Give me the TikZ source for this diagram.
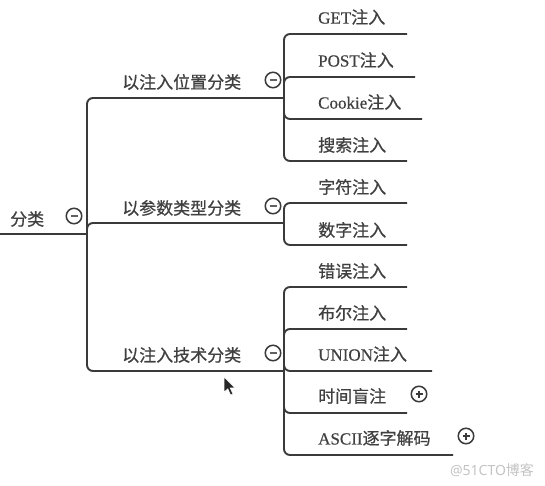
\documentclass[tikz,border=0pt]{standalone}
\usepackage{fontspec}
\setmainfont[FakeBold=0.5]{Liberation Serif}
\newfontfamily\cjk[FakeBold=0.7]{Noto Sans CJK SC}
\newfontfamily\wmfont{Noto Sans}
\newfontfamily\wmcjk{Noto Sans CJK SC}
\definecolor{ln}{HTML}{3A3A3A}
\definecolor{tx}{HTML}{404040}
\definecolor{wm}{HTML}{C4C4C4}
\tikzset{
  lbl/.style={anchor=west, inner sep=0pt, font=\fontsize{17}{20}\selectfont, text=tx},
  conn/.style={draw=ln, line width=1.9pt, rounded corners=6pt},
  togglebase/.style={circle, draw=ln, line width=1.5pt, fill=white, minimum size=15.5pt, inner sep=0pt},
  minusbox/.style={togglebase, path picture={
    \draw[ln!80, line width=1.1pt] ([xshift=-3.5pt]path picture bounding box.center) -- ([xshift=3.5pt]path picture bounding box.center);}},
  plusbox/.style={togglebase, path picture={
    \draw[ln, line width=1.5pt] ([xshift=-3.5pt]path picture bounding box.center) -- ([xshift=3.5pt]path picture bounding box.center);
    \draw[ln, line width=1.5pt] ([yshift=-3.5pt]path picture bounding box.center) -- ([yshift=3.5pt]path picture bounding box.center);}}
}
\begin{document}
\begin{tikzpicture}[x=1pt,y=-1pt]
\useasboundingbox[fill=white] (0,0) rectangle (545,486);

% junctions
\coordinate (r0) at (0,234);
\coordinate (j0) at (87,234);
\coordinate (j1) at (284,98);
\coordinate (j2) at (284,223);
\coordinate (j3) at (284,371);
% leaf line ends
\coordinate (e1) at (407,34);
\coordinate (e2) at (415,77);
\coordinate (e3) at (422,119);
\coordinate (e4) at (407,161);
\coordinate (e5) at (407,203);
\coordinate (e6) at (407,245);
\coordinate (e7) at (407,287);
\coordinate (e8) at (407,329);
\coordinate (e9) at (432,371);
\coordinate (e10) at (407,413);
\coordinate (e11) at (453,455);

% connectors
\draw[conn] (r0) -- (j0);
\draw[conn] (j0) |- (j1);
\draw[conn] (j0) |- (j2);
\draw[conn] (j0) |- (j3);
\foreach \e in {e1,e2,e3,e4} \draw[conn] (j1) |- (\e);
\foreach \e in {e5,e6} \draw[conn] (j2) |- (\e);
\foreach \e in {e7,e8,e9,e10,e11} \draw[conn] (j3) |- (\e);

% labels
\node[lbl] (root) at (10,219) {\cjk 分类};
\node[lbl] (b1) at (122,82) {\cjk 以注入位置分类};
\node[lbl] (b2) at (122,208) {\cjk 以参数类型分类};
\node[lbl] (b3) at (122,355) {\cjk 以注入技术分类};
\node[lbl] (l1) at (318,17) {GET{\cjk 注入}};
\node[lbl] (l2) at (318,60) {POST{\cjk 注入}};
\node[lbl] (l3) at (318,102) {Cookie{\cjk 注入}};
\node[lbl] (l4) at (318,145) {\cjk 搜索注入};
\node[lbl] (l5) at (318,187) {\cjk 字符注入};
\node[lbl] (l6) at (318,230) {\cjk 数字注入};
\node[lbl] (l7) at (318,271) {\cjk 错误注入};
\node[lbl] (l8) at (318,313) {\cjk 布尔注入};
\node[lbl] (l9) at (318,354) {UNION{\cjk 注入}};
\node[lbl] (l10) at (318,396) {\cjk 时间盲注};
\node[lbl] (l11) at (318,438) {ASCII{\cjk 逐字解码}};

% toggles
\node[minusbox] (m0) at (74,216) {};
\node[minusbox] (m1) at (273,80) {};
\node[minusbox] (m2) at (273,206) {};
\node[minusbox] (m3) at (273,353) {};
\node[plusbox] (p1) at (419,394) {};
\node[plusbox] (p2) at (466,436) {};

% cursor
\filldraw[fill=black!85, draw=white, line width=0.6pt, shift={(224,377)}, scale=0.95]
  (0,0) -- (0,16) -- (4,12.5) -- (7,19) -- (9.5,18) -- (6.5,11.5) -- (11.5,11.5) -- cycle;

% watermark
\node[anchor=center, inner sep=0pt, text=wm, font=\fontsize{14}{16}\selectfont] (wmk) at (492,470) {{\wmfont @51CTO}{\wmcjk 博客}};
\end{tikzpicture}
\end{document}
